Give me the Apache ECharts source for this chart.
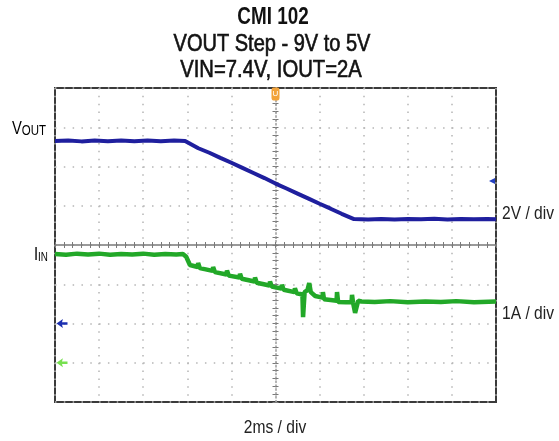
<!DOCTYPE html>
<html>
<head>
<meta charset="utf-8">
<script src="https://cdn.jsdelivr.net/npm/echarts@6/dist/echarts.min.js"></script>
<style>
html,body{margin:0;padding:0;background:#fff;}
#c{width:559px;height:441px;}
</style>
</head>
<body>
<div id="c"></div>
<script>
// ---- data (time in ms, VOUT in V, IIN in A) ----
const titleLines = ['CMI 102', 'VOUT Step - 9V to 5V', 'VIN=7.4V, IOUT=2A'];
const timeRange = [-10, 10];       // 2 ms / div, 10 div
const voutRange = [-4, 12];        // 2 V / div, 8 div
const iinRange = [-1, 7];          // 1 A / div, 8 div
const voutTrace = [
  [-10, 9.30], [-9.4, 9.33], [-8.8, 9.28], [-8.2, 9.32], [-7.6, 9.29], [-7.0, 9.33],
  [-6.4, 9.29], [-5.8, 9.32], [-5.2, 9.29], [-4.6, 9.32], [-4.10, 9.30],
  [-3.5, 8.93], [-3.0, 8.70], [-2.5, 8.44], [-2.0, 8.19], [-1.5, 7.93], [-1.0, 7.67],
  [-0.5, 7.41], [0.0, 7.13], [0.5, 6.88], [1.0, 6.62], [1.5, 6.36], [2.0, 6.10],
  [2.5, 5.85], [3.0, 5.59], [3.56, 5.32],
  [4.2, 5.30], [4.8, 5.33], [5.4, 5.30], [6.0, 5.33], [6.6, 5.31], [7.2, 5.34],
  [7.8, 5.30], [8.4, 5.33], [9.0, 5.31], [9.6, 5.33], [10, 5.31]
];
const iinTrace = [
  [-10, 2.77], [-9.5, 2.75], [-9.0, 2.78], [-8.5, 2.76], [-8.0, 2.78], [-7.5, 2.75],
  [-7.0, 2.77], [-6.5, 2.76], [-6.0, 2.78], [-5.5, 2.75], [-5.0, 2.77], [-4.5, 2.76],
  [-4.2, 2.77], [-4.05, 2.70], [-3.88, 2.49],
  [-3.53, 2.44], [-3.51, 2.54], [-3.43, 2.41],
  [-2.85, 2.34], [-2.83, 2.44], [-2.75, 2.31],
  [-2.22, 2.25], [-2.20, 2.35], [-2.12, 2.22],
  [-1.63, 2.17], [-1.61, 2.27], [-1.53, 2.14],
  [-0.95, 2.07], [-0.93, 2.17], [-0.85, 2.04],
  [-0.27, 1.97], [-0.25, 2.07], [-0.17, 1.94],
  [0.27, 1.89], [0.29, 1.99], [0.37, 1.86],
  [0.86, 1.80], [0.88, 1.90], [0.96, 1.77],
  [1.22, 1.74], [1.25, 1.16], [1.32, 1.80], [1.45, 1.85], [1.53, 2.03], [1.60, 1.80],
  [1.8, 1.70], [2.13, 1.66], [2.15, 1.80], [2.20, 1.62], [2.5, 1.60],
  [2.77, 1.58], [2.79, 1.80], [2.84, 1.55], [3.2, 1.54], [3.45, 1.55],
  [3.47, 1.73], [3.52, 1.52], [3.61, 1.27], [3.75, 1.58], [3.9, 1.56],
  [4.5, 1.55], [5.2, 1.57], [6.0, 1.54], [6.8, 1.56], [7.5, 1.55], [8.2, 1.57],
  [9.0, 1.54], [10, 1.56]
];
const voutGround = [-10, 0];
const iinGround = [-10, 0];
const triggerTime = [0, 12];
const triggerLevel = [10, 7.26];
const scaleLabels = { vout: '2V / div', iin: '1A / div', time: '2ms / div' };

// ---- chart ----
const FONT = "'Liberation Sans', Arial, sans-serif";
const SX = 0.82; // condensed look
const chart = echarts.init(document.getElementById('c'), null, { renderer: 'canvas' });
const grid = { left: 55, top: 88, width: 441, height: 314 };
const dotV = { color: '#b5b5b5', width: 1.5, type: [1.5, 6.35] };
const dotH = { color: '#b5b5b5', width: 1.5, type: [1.5, 7.32] };
const hidden = { show: false };
const tickStyle = { color: '#7a7a7a', width: 1 };

const arrowPath = 'path://M0,5 L7,0 L6,3.6 L12,3.6 L12,6.4 L6,6.4 L7,10 Z';

function txt(x, y, text, font, align, color, sx, stroke) {
  const c = color || '#1a1a1a';
  const st = { text: text, font: font, fill: c, textAlign: align || 'left', textVerticalAlign: 'middle' };
  if (stroke) { st.stroke = c; st.lineWidth = stroke; }
  return { type: 'text', x: x, y: y, scaleX: sx || SX, style: st };
}
function richTxt(x, y, big, small, smallSize) {
  return { type: 'text', x: x, y: y, scaleX: SX,
    style: { text: '{a|' + big + '}{b|' + small + '}', textAlign: 'left', textVerticalAlign: 'middle',
      rich: { a: { fontSize: 18, fontFamily: FONT, color: '#555', verticalAlign: 'bottom' },
              b: { fontSize: smallSize, fontFamily: FONT, color: '#555', verticalAlign: 'bottom' } } } };
}

chart.setOption({
  animation: false,
  backgroundColor: '#fff',
  grid: Object.assign({ show: true, borderColor: '#3a3a3a', borderWidth: 2, backgroundColor: 'transparent' }, grid),
  xAxis: [
    { type: 'value', min: timeRange[0], max: timeRange[1], interval: 2,
      axisLine: hidden, axisTick: hidden, axisLabel: hidden,
      splitLine: { show: true, lineStyle: dotV } },
    { type: 'value', min: timeRange[0], max: timeRange[1], interval: 2,
      axisLine: { show: true, onZero: true, onZeroAxisIndex: 2, lineStyle: { color: '#7a7a7a', width: 1.5 } },
      axisTick: { show: true, inside: true, length: 3, lineStyle: tickStyle },
      minorTick: { show: true, splitNumber: 5, length: 3, lineStyle: tickStyle },
      axisLabel: hidden, splitLine: hidden },
    { type: 'value', min: timeRange[0], max: timeRange[1], interval: 2,
      axisLine: { show: false, onZero: true, onZeroAxisIndex: 2 },
      axisTick: { show: true, inside: false, length: 3, lineStyle: tickStyle },
      minorTick: { show: true, splitNumber: 5, length: 3, lineStyle: tickStyle },
      axisLabel: hidden, splitLine: hidden }
  ],
  yAxis: [
    { type: 'value', min: voutRange[0], max: voutRange[1], interval: 2,
      axisLine: hidden, axisTick: hidden, axisLabel: hidden,
      splitLine: { show: true, lineStyle: dotH } },
    { type: 'value', min: iinRange[0], max: iinRange[1], interval: 1,
      axisLine: hidden, axisTick: hidden, axisLabel: hidden, splitLine: hidden },
    { type: 'value', min: -4, max: 4, interval: 1,
      axisLine: { show: true, onZero: true, onZeroAxisIndex: 0, lineStyle: { color: '#9a9a9a', width: 1.5, type: [1.5, 2.4] } },
      axisTick: { show: true, inside: true, length: 3, lineStyle: tickStyle },
      minorTick: { show: true, splitNumber: 5, length: 3, lineStyle: tickStyle },
      axisLabel: hidden, splitLine: hidden },
    { type: 'value', min: -4, max: 4, interval: 1,
      axisLine: { show: false, onZero: true, onZeroAxisIndex: 0 },
      axisTick: { show: true, inside: false, length: 3, lineStyle: tickStyle },
      minorTick: { show: true, splitNumber: 5, length: 3, lineStyle: tickStyle },
      axisLabel: hidden, splitLine: hidden }
  ],
  series: [
    { type: 'line', name: 'VOUT', xAxisIndex: 0, yAxisIndex: 0, data: voutTrace,
      showSymbol: false, lineStyle: { color: '#1f1f9e', width: 4 }, z: 5,
      markPoint: {
        silent: true,
        data: [
          { coord: voutGround, symbol: arrowPath, symbolSize: [11, 9], symbolOffset: [7, 0],
            itemStyle: { color: '#1b2fb0' }, label: { show: false } },
          { coord: triggerLevel, symbol: 'triangle', symbolRotate: 90, symbolSize: [6, 6], symbolOffset: [-4, 0],
            itemStyle: { color: '#2440c0' }, label: { show: false } },
          { coord: triggerTime, symbol: 'roundRect', symbolSize: [8, 13], symbolOffset: [0, 6],
            itemStyle: { color: '#f2a33a' },
            label: { show: true, formatter: 'U', color: '#fff', fontSize: 8, fontFamily: FONT, position: 'inside' } }
        ]
      } },
    { type: 'line', name: 'IIN', xAxisIndex: 0, yAxisIndex: 1, data: iinTrace,
      showSymbol: false, lineStyle: { color: '#22a828', width: 4.5 }, z: 4,
      markPoint: {
        silent: true,
        data: [
          { coord: iinGround, symbol: arrowPath, symbolSize: [11, 9], symbolOffset: [7, 0],
            itemStyle: { color: '#77e050' }, label: { show: false } }
        ]
      } }
  ],
  graphic: [
    txt(273, 18, titleLines[0], 'bold 23px ' + FONT, 'center', '#111', 0.82),
    txt(272, 45, titleLines[1], '23px ' + FONT, 'center', '#111', 0.87, 0.6),
    txt(271, 71, titleLines[2], '23px ' + FONT, 'center', '#111', 0.88, 0.6),
    richTxt(12, 129, 'V', 'OUT', 14),
    richTxt(34, 255, 'I', 'IN', 12),
    txt(502, 214, scaleLabels.vout, '19px ' + FONT, 'left', '#222'),
    txt(502, 314, scaleLabels.iin, '19px ' + FONT, 'left', '#222'),
    txt(275, 428, scaleLabels.time, '19px ' + FONT, 'center', '#222')
  ]
});
</script>
</body>
</html>
